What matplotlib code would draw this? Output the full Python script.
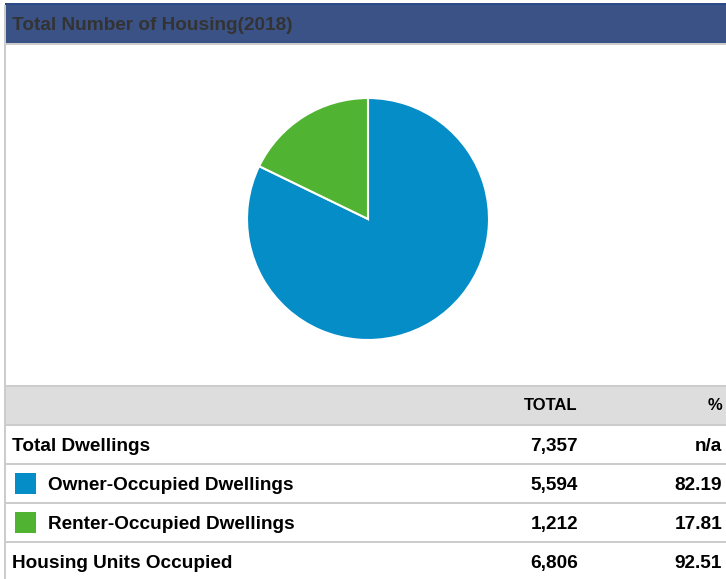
import matplotlib.pyplot as plt
from matplotlib.patches import Rectangle

# data
title = "Total Number of Housing(2018)"
slice_labels = ["Owner-Occupied Dwellings", "Renter-Occupied Dwellings"]
slice_values = [5594, 1212]
slice_colors = ["#058dc7", "#50b432"]

row_labels = ["Total Dwellings", "Owner-Occupied Dwellings",
              "Renter-Occupied Dwellings", "Housing Units Occupied"]
row_totals = ["7,357", "5,594", "1,212", "6,806"]
row_pcts = ["n/a", "82.19", "17.81", "92.51"]
row_swatch = [None, "#058dc7", "#50b432", None]
col_headers = ["TOTAL", "%"]

W, H = 726, 579
plt.rcParams["font.family"] = ["Liberation Sans", "DejaVu Sans"]
fig = plt.figure(figsize=(W / 100, H / 100), dpi=100)

# background / layout layer in pixel coords
bg = fig.add_axes([0, 0, 1, 1])
bg.set_xlim(0, W)
bg.set_ylim(H, 0)
bg.axis("off")

# header band
bg.add_patch(Rectangle((5, 3), W - 5, 2, color="#2c4a86", lw=0))
bg.add_patch(Rectangle((5, 5), W - 5, 38, color="#3b5286", lw=0))
bg.add_patch(Rectangle((5, 43), W - 5, 2, color="#cccccc", lw=0))
bg.text(12, 24, title, fontsize=13.7, fontweight="bold", color="#333333",
        ha="left", va="center_baseline")
# left border
bg.add_patch(Rectangle((4, 5), 2, H - 5, color="#cccccc", lw=0))

# table
bg.add_patch(Rectangle((6, 385), W - 6, 2, color="#cccccc", lw=0))
bg.add_patch(Rectangle((6, 387), W - 6, 37, color="#dddddd", lw=0))
bg.text(578, 405, col_headers[0], fontsize=12, fontweight="bold",
        color="#000000", ha="right", va="center")
bg.text(722, 405, col_headers[1], fontsize=12, fontweight="bold",
        color="#000000", ha="right", va="center")

row_top = 424
row_h = 39
for i, lab in enumerate(row_labels):
    y0 = row_top + i * row_h
    bg.add_patch(Rectangle((6, y0), W - 6, 2, color="#cccccc", lw=0))
    yc = y0 + row_h / 2 + 1
    x = 12
    if row_swatch[i] is not None:
        bg.add_patch(Rectangle((15, yc - 10.5), 21, 21, color=row_swatch[i], lw=0))
        x = 48
    bg.text(x, yc, lab, fontsize=13.7, fontweight="bold", color="#000000",
            ha="left", va="center_baseline")
    bg.text(578, yc, row_totals[i], fontsize=13.7, fontweight="bold",
            color="#000000", ha="right", va="center_baseline")
    bg.text(722, yc, row_pcts[i], fontsize=13.7, fontweight="bold",
            color="#000000", ha="right", va="center_baseline")

# pie
cx, cy, r = 368, 219, 121
pie_ax = fig.add_axes([(cx - r) / W, 1 - (cy + r) / H, 2 * r / W, 2 * r / H])
pie_ax.pie(slice_values, colors=slice_colors, startangle=90, counterclock=False,
           radius=1, wedgeprops=dict(edgecolor="white", linewidth=1.5))
pie_ax.set_xlim(-1, 1)
pie_ax.set_ylim(-1, 1)
pie_ax.set_aspect("auto")
pie_ax.axis("off")

fig.savefig("out.png", dpi=100)
